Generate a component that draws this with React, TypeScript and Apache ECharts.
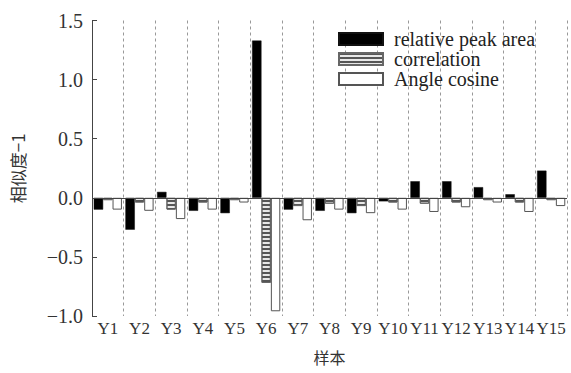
import React, { useEffect, useRef } from "react";
import * as echarts from "echarts";

const categories = ["Y1", "Y2", "Y3", "Y4", "Y5", "Y6", "Y7", "Y8", "Y9", "Y10", "Y11", "Y12", "Y13", "Y14", "Y15"];
const relativePeakArea = [-0.10, -0.27, 0.05, -0.11, -0.13, 1.33, -0.10, -0.11, -0.13, -0.03, 0.14, 0.14, 0.09, 0.03, 0.23];
const correlation = [-0.02, -0.04, -0.10, -0.04, -0.02, -0.72, -0.07, -0.05, -0.07, -0.04, -0.05, -0.04, -0.02, -0.04, -0.02];
const angleCosine = [-0.10, -0.11, -0.18, -0.10, -0.04, -0.96, -0.19, -0.10, -0.13, -0.10, -0.12, -0.08, -0.04, -0.12, -0.07];
const seriesNames = ["relative peak area", "correlation", "Angle cosine"];

const SERIF = "'Liberation Serif', 'DejaVu Serif', 'Times New Roman', serif";
const CJK = "'Noto Sans CJK SC', sans-serif";

export default function App() {
  const ref = useRef<HTMLDivElement>(null);
  useEffect(() => {
    document.body.style.margin = "0";
    if (!ref.current) return;
    const chart = echarts.init(ref.current, undefined, { renderer: "svg" });
    chart.setOption({
      animation: false,
      backgroundColor: "#fff",
      textStyle: { fontFamily: SERIF },
      grid: { left: 92, right: 4, top: 20.5, bottom: 57, containLabel: false },
      legend: {
        orient: "vertical",
        left: 338,
        top: 29,
        padding: 0,
        itemWidth: 44,
        itemHeight: 12,
        itemGap: 0,
        icon: "rect",
        data: seriesNames,
        textStyle: { fontFamily: SERIF, fontSize: 20, lineHeight: 19, color: "#222", padding: [0, 0, 0, 6] },
      },
      xAxis: {
        type: "category",
        data: categories,
        position: "bottom",
        name: "样本",
        nameLocation: "middle",
        nameGap: 33,
        nameTextStyle: { fontFamily: CJK, fontSize: 16, color: "#333" },
        axisLine: { show: false, onZero: false },
        axisTick: { show: false },
        axisLabel: { fontFamily: SERIF, fontSize: 17, color: "#333", margin: 4, interval: 0 },
        splitLine: { show: true, lineStyle: { color: "#999", type: [3, 3], width: 1 } },
      },
      yAxis: {
        type: "value",
        min: -1,
        max: 1.5,
        interval: 0.5,
        name: "相似度−1",
        nameLocation: "middle",
        nameGap: 66,
        nameTextStyle: { fontFamily: CJK, fontSize: 17, color: "#333" },
        axisLine: { show: true, lineStyle: { color: "#444", width: 1 } },
        axisTick: { show: true, inside: true, length: 5, lineStyle: { color: "#444" } },
        axisLabel: {
          fontFamily: SERIF,
          fontSize: 20,
          color: "#333",
          margin: 9,
          formatter: (v: number) => v.toFixed(1).replace("-", "−"),
        },
        splitLine: { show: false },
      },
      series: [
        {
          name: seriesNames[0],
          type: "bar",
          data: relativePeakArea,
          barWidth: 9.4,
          barGap: "0%",
          itemStyle: { color: "#000", borderColor: "#111", borderWidth: 0.5 },
          markLine: {
            silent: true,
            symbol: "none",
            label: { show: false },
            lineStyle: { color: "#444", type: "solid", width: 1 },
            data: [{ yAxis: 0 }],
          },
        },
        {
          name: seriesNames[1],
          type: "bar",
          data: correlation,
          barWidth: 9.4,
          barGap: "0%",
          itemStyle: {
            color: "#e8e8e8",
            borderColor: "#666",
            borderWidth: 1,
            decal: {
              symbol: "rect",
              symbolSize: 1,
              dashArrayX: [1, 0],
              dashArrayY: [2, 2],
              rotation: 0,
              color: "rgba(60,60,60,0.85)",
            },
          },
        },
        {
          name: seriesNames[2],
          type: "bar",
          data: angleCosine,
          barWidth: 9.4,
          barGap: "0%",
          itemStyle: { color: "#fff", borderColor: "#555", borderWidth: 1 },
        },
      ],
    });
    return () => chart.dispose();
  }, []);
  return <div ref={ref} style={{ position: "absolute", left: 0, top: 0, width: 571, height: 373 }} />;
}
